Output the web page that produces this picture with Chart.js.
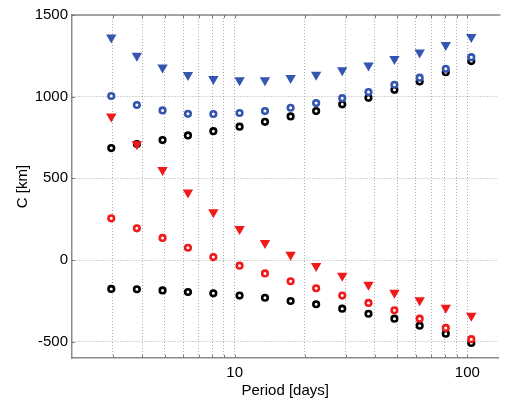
<!DOCTYPE html>
<html>
<head>
<meta charset="utf-8">
<script src="https://cdn.jsdelivr.net/npm/chart.js@4.4.0/dist/chart.umd.min.js"></script>
<style>
  html, body { margin: 0; padding: 0; background: #fff; overflow: hidden; }
  #wrap { width: 505px; height: 401px; }
</style>
</head>
<body>
<div id="wrap"><canvas id="chart" width="505" height="401"></canvas></div>
<script>
    "use strict";

    // Periods in days (shared by all series)
    var periods = [2.95, 3.8, 4.9, 6.3, 8.1, 10.5, 13.5, 17.4, 22.4, 29, 37.6, 48.6, 62.4, 80.8, 104];

    // C values in km
    var blueTriangles = [1363, 1250, 1179, 1132, 1108, 1101, 1101, 1114, 1134, 1161, 1191, 1230, 1271, 1316, 1366];
    var blueCircles   = [1004, 949, 916, 895, 894, 900, 912, 932, 961, 991, 1028, 1073, 1116, 1171, 1242];
    var redTriangles  = [879, 708, 551, 414, 292, 190, 104, 32, -37, -96, -151, -200, -247, -292, -341];
    var redCircles    = [255, 194, 135, 75, 18, -35, -82, -130, -173, -218, -263, -308, -359, -416, -485];
    var blackUpper    = [685, 710, 734, 763, 789, 816, 846, 879, 912, 953, 993, 1042, 1093, 1150, 1218];
    var blackLower    = [-177, -179, -186, -196, -204, -218, -231, -251, -271, -298, -329, -359, -402, -451, -508];

    // Axis ticks
    var xGridTicks = [3, 4, 5, 6, 7, 8, 9, 10, 20, 30, 40, 50, 60, 70, 80, 90, 100];
    var xLabelTicks = [10, 100];
    var yTicks = [-500, 0, 500, 1000, 1500];

    var BLUE = '#3556b0';
    var RED = '#f01a1a';
    var BLACK = '#000000';
    var FONT = { family: "'Liberation Sans', Arial, sans-serif", size: 15 };
    var GRID = 'rgba(150, 150, 150, 0.8)';
    var AXIS = '#8a8a8a';

    function pts(ys) {
        return ys.map(function (y, i) { return { x: periods[i], y: y }; });
    }

    function circles(data, color) {
        return {
            data: pts(data),
            pointStyle: 'circle',
            pointRadius: 2.8,
            borderWidth: 2.6,
            borderColor: color,
            backgroundColor: '#ffffff'
        };
    }

    function triangles(data, color) {
        return {
            data: pts(data),
            pointStyle: 'triangle',
            rotation: 180,
            pointRadius: 4,
            borderWidth: 2,
            borderColor: color,
            backgroundColor: color
        };
    }

    // Top frame line and small inward tick marks
    var framePlugin = {
        id: 'frame',
        beforeDatasetsDraw: function (chart) {
            var ctx = chart.ctx, a = chart.chartArea;
            var xs = chart.scales.x, ys = chart.scales.y;
            ctx.save();
            ctx.strokeStyle = AXIS;
            ctx.lineWidth = 1.5;
            ctx.beginPath();
            ctx.moveTo(a.left, a.top);
            ctx.lineTo(a.right + 2, a.top);
            ctx.stroke();

            ctx.strokeStyle = '#777';
            ctx.lineWidth = 1;
            ctx.beginPath();
            xGridTicks.forEach(function (v) {
                var px = Math.round(xs.getPixelForValue(v)) + 0.5;
                ctx.moveTo(px, a.bottom);
                ctx.lineTo(px, a.bottom - 3);
                ctx.moveTo(px, a.top);
                ctx.lineTo(px, a.top + 3);
            });
            yTicks.forEach(function (v) {
                var py = Math.round(ys.getPixelForValue(v)) + 0.5;
                ctx.moveTo(a.left, py);
                ctx.lineTo(a.left + 3, py);
            });
            ctx.stroke();
            ctx.restore();
        }
    };

    var ctx = document.getElementById('chart').getContext('2d');
    var chart = new Chart(ctx, {
        type: 'scatter',
        data: {
            datasets: [
                triangles(blueTriangles, BLUE),
                circles(blueCircles, BLUE),
                triangles(redTriangles, RED),
                circles(redCircles, RED),
                circles(blackUpper, BLACK),
                circles(blackLower, BLACK)
            ]
        },
        options: {
            responsive: false,
            devicePixelRatio: 1,
            animation: false,
            layout: { padding: { top: 15, right: 1, left: 0, bottom: 0 } },
            plugins: {
                legend: { display: false },
                tooltip: { enabled: false }
            },
            scales: {
                x: {
                    type: 'logarithmic',
                    min: 2,
                    max: 136,
                    afterFit: function (s) { s.height = 43; },
                    afterBuildTicks: function (s) {
                        s.ticks = xGridTicks.map(function (v) { return { value: v }; });
                    },
                    ticks: {
                        autoSkip: false,
                        maxRotation: 0,
                        padding: 6,
                        color: '#000',
                        font: FONT,
                        callback: function (v) {
                            return xLabelTicks.indexOf(v) >= 0 ? String(v) : '';
                        }
                    },
                    grid: { color: GRID, lineWidth: 1, drawTicks: false },
                    border: { display: true, color: AXIS, width: 1.5, dash: [1, 2] },
                    title: {
                        display: true,
                        text: 'Period [days]',
                        color: '#000',
                        font: FONT,
                        padding: { top: 0, bottom: 1 }
                    }
                },
                y: {
                    type: 'linear',
                    min: -600,
                    max: 1500,
                    afterFit: function (s) { s.width = 72; },
                    afterBuildTicks: function (s) {
                        s.ticks = yTicks.map(function (v) { return { value: v }; });
                    },
                    ticks: {
                        padding: 4,
                        color: '#000',
                        font: FONT,
                        callback: function (v) { return String(v); }
                    },
                    grid: { color: GRID, lineWidth: 1, drawTicks: false },
                    border: { display: true, color: AXIS, width: 1.5, dash: [1, 2] },
                    title: {
                        display: true,
                        text: 'C [km]',
                        color: '#000',
                        font: FONT,
                        padding: { top: 14, bottom: 0 }
                    }
                }
            }
        },
        plugins: [framePlugin]
    });
</script>
</body>
</html>
